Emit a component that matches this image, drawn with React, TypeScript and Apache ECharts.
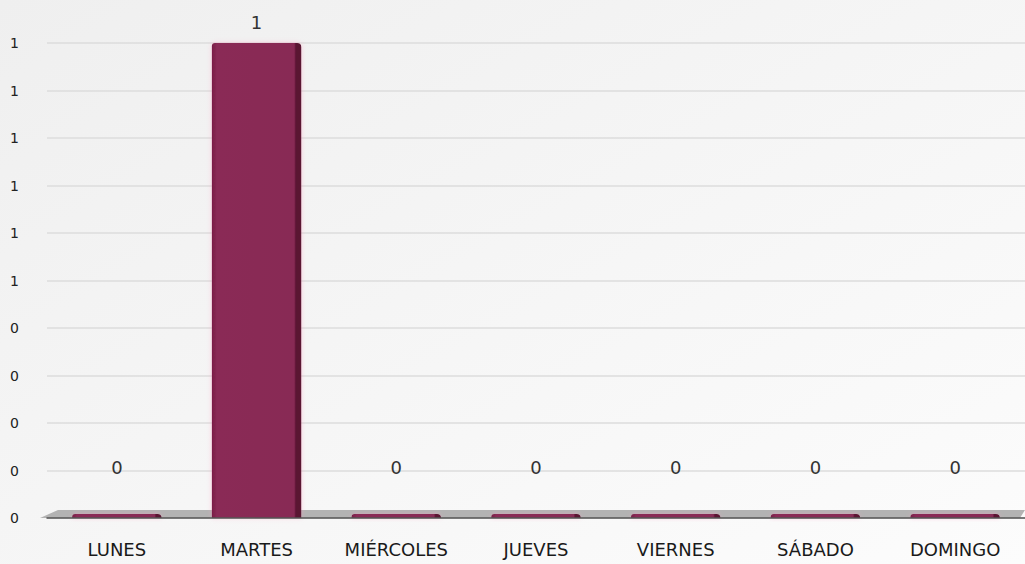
import React, { useEffect, useRef } from "react";
import * as echarts from "echarts";

const categories = ["LUNES", "MARTES", "MIÉRCOLES", "JUEVES", "VIERNES", "SÁBADO", "DOMINGO"];
const values = [0, 1, 0, 0, 0, 0, 0];

export default function App() {
  const ref = useRef<HTMLDivElement>(null);
  useEffect(() => {
    document.body.style.margin = "0";
    const chart = echarts.init(ref.current!, null, { renderer: "svg" });
    const barColor = new echarts.graphic.LinearGradient(0, 0, 1, 0, [
      { offset: 0, color: "#7a1d47" },
      { offset: 0.06, color: "#8a2c56" },
      { offset: 0.92, color: "#882a54" },
      { offset: 0.94, color: "#5a1232" },
      { offset: 1, color: "#5a1232" },
    ]);
    const font = "DejaVu Sans, Liberation Sans, Arial, sans-serif";
    chart.setOption({
      animation: false,
      backgroundColor: new echarts.graphic.LinearGradient(0, 0, 1, 1, [
        { offset: 0, color: "#efefef" },
        { offset: 1, color: "#fcfcfc" },
      ]),
      grid: { left: 47, right: -3, top: 43, bottom: 46, containLabel: false },
      xAxis: {
        type: "category",
        data: categories,
        axisLine: { show: true, lineStyle: { color: "#555", width: 1.5 } },
        axisTick: { show: false },
        axisLabel: {
          interval: 0,
          hideOverlap: false,
          color: "#1a1a1a",
          fontFamily: font,
          fontSize: 18,
          margin: 22,
        },
        z: 5,
      },
      yAxis: {
        type: "value",
        min: 0,
        max: 1,
        interval: 0.1,
        axisLine: { show: false },
        axisTick: { show: false },
        axisLabel: {
          color: "#222222",
          fontFamily: font,
          fontSize: 14,
          margin: 28,
          formatter: (v: number) => String(Math.round(v)),
        },
        splitLine: { lineStyle: { color: "#dcdcdc", width: 1.5 } },
      },
      graphic: [
        {
          type: "polygon",
          z: 1,
          shape: { points: [[40, 518], [1020, 518], [1025, 510], [58, 510]] },
          style: { fill: "#b3b3b3" },
        },
      ],
      series: [
        {
          type: "bar",
          data: values.map((v) => ({
            value: v,
            label: { distance: v === 0 ? 38 : 12 },
          })),
          barWidth: "64%",
          barMinHeight: 4,
          z: 3,
          itemStyle: {
            color: barColor,
            borderRadius: [3, 4, 0, 0],
            shadowColor: "rgba(255,150,190,0.45)",
            shadowBlur: 5,
          },
          label: {
            show: true,
            position: "top",
            color: "#333333",
            fontFamily: font,
            fontSize: 18,
          },
        },
      ],
    });
    return () => chart.dispose();
  }, []);
  return <div ref={ref} style={{ width: 1025, height: 564 }} />;
}
